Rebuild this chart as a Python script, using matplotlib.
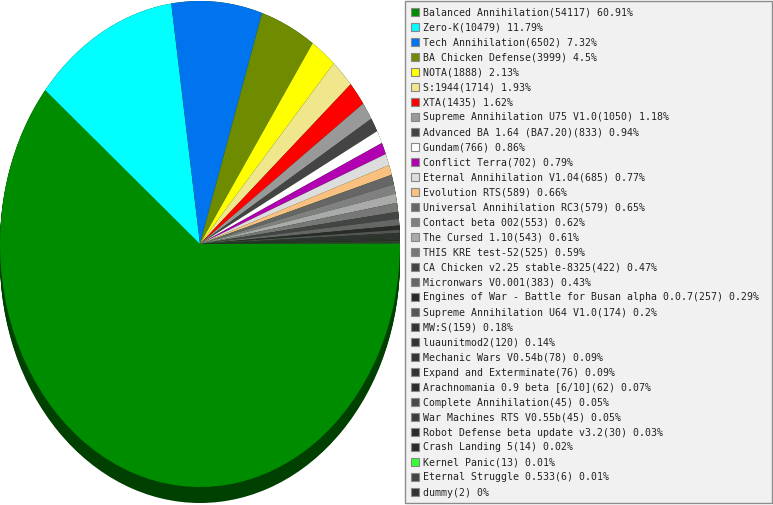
import matplotlib
matplotlib.use("Agg")
import matplotlib.pyplot as plt
from matplotlib.patches import Ellipse, Rectangle

names = [
    "Balanced Annihilation", "Zero-K", "Tech Annihilation", "BA Chicken Defense",
    "NOTA", "S:1944", "XTA", "Supreme Annihilation U75 V1.0",
    "Advanced BA 1.64 (BA7.20)", "Gundam", "Conflict Terra",
    "Eternal Annihilation V1.04", "Evolution RTS", "Universal Annihilation RC3",
    "Contact beta 002", "The Cursed 1.10", "THIS KRE test-52",
    "CA Chicken v2.25 stable-8325", "Micronwars V0.001",
    "Engines of War - Battle for Busan alpha 0.0.7", "Supreme Annihilation U64 V1.0",
    "MW:S", "luaunitmod2", "Mechanic Wars V0.54b", "Expand and Exterminate",
    "Arachnomania 0.9 beta [6/10]", "Complete Annihilation", "War Machines RTS V0.55b",
    "Robot Defense beta update v3.2", "Crash Landing 5", "Kernel Panic",
    "Eternal Struggle 0.533", "dummy",
]
counts = [54117, 10479, 6502, 3999, 1888, 1714, 1435, 1050, 833, 766, 702, 685,
          589, 579, 553, 543, 525, 422, 383, 257, 174, 159, 120, 78, 76, 62, 45,
          45, 30, 14, 13, 6, 2]
pct_labels = ["60.91%", "11.79%", "7.32%", "4.5%", "2.13%", "1.93%", "1.62%",
              "1.18%", "0.94%", "0.86%", "0.79%", "0.77%", "0.66%", "0.65%",
              "0.62%", "0.61%", "0.59%", "0.47%", "0.43%", "0.29%", "0.2%",
              "0.18%", "0.14%", "0.09%", "0.09%", "0.07%", "0.05%", "0.05%",
              "0.03%", "0.02%", "0.01%", "0.01%", "0%"]
colors = ["#008c00", "#00ffff", "#0073ee", "#6f8b00", "#ffff00", "#f0e68c",
          "#ff0000", "#999999", "#444444", "#ffffff", "#b000b0", "#dddddd",
          "#f9c080", "#666666", "#808080", "#aaaaaa", "#777777", "#444444",
          "#666666", "#2a2a2a", "#555555", "#333333", "#333333", "#333333",
          "#333333", "#2b2b2b", "#4a4a4a", "#3c3c3c", "#2b2b2b", "#2b2b2b",
          "#33ff33", "#444444", "#333333"]

W, H = 773, 505
fig = plt.figure(figsize=(W / 100, H / 100), dpi=100)
fig.patch.set_facecolor("white")

# pie axes: x 0..400 px, full height; ellipse center at y=244 px from top
rx, ry, cy, depth = 200.0, 243.0, 244.0, 16.0
ax = fig.add_axes([0, 0, 400 / W, 1])

# extruded side (dark green)
steps = 17
for k in range(steps):
    off = depth * k / (steps - 1) / ry
    ax.add_patch(Ellipse((0, -off), 2, 2, facecolor="#004000",
                         edgecolor="none", zorder=1))

ax.pie(counts, colors=colors, startangle=0, counterclock=False, radius=1,
       center=(0, 0), frame=True,
       wedgeprops=dict(linewidth=0, antialiased=True, zorder=2))
ax.set_xlim(-1, 1)
ax.set_ylim(-(H - cy) / ry, cy / ry)
ax.set_aspect("auto")
ax.axis("off")

# legend overlay in pixel coordinates
lg = fig.add_axes([0, 0, 1, 1])
lg.set_xlim(0, W)
lg.set_ylim(H, 0)
lg.axis("off")
lg.patch.set_alpha(0)
lg.add_patch(Rectangle((405, 1), 367, 502, facecolor="#f1f1f1",
                       edgecolor="#8c8c8c", linewidth=1))
for i, (n, c, p, col) in enumerate(zip(names, counts, pct_labels, colors)):
    yc = 12 + 15 * i
    lg.add_patch(Rectangle((410.5, yc - 4.5), 8, 8, facecolor=col,
                           edgecolor="#888888", linewidth=0.8))
    lg.text(423, yc + 0.5, f"{n}({c}) {p}", fontsize=7.1,
            family="DejaVu Sans Mono", va="center", ha="left", color="#222222")

fig.savefig("out.png", dpi=100)
